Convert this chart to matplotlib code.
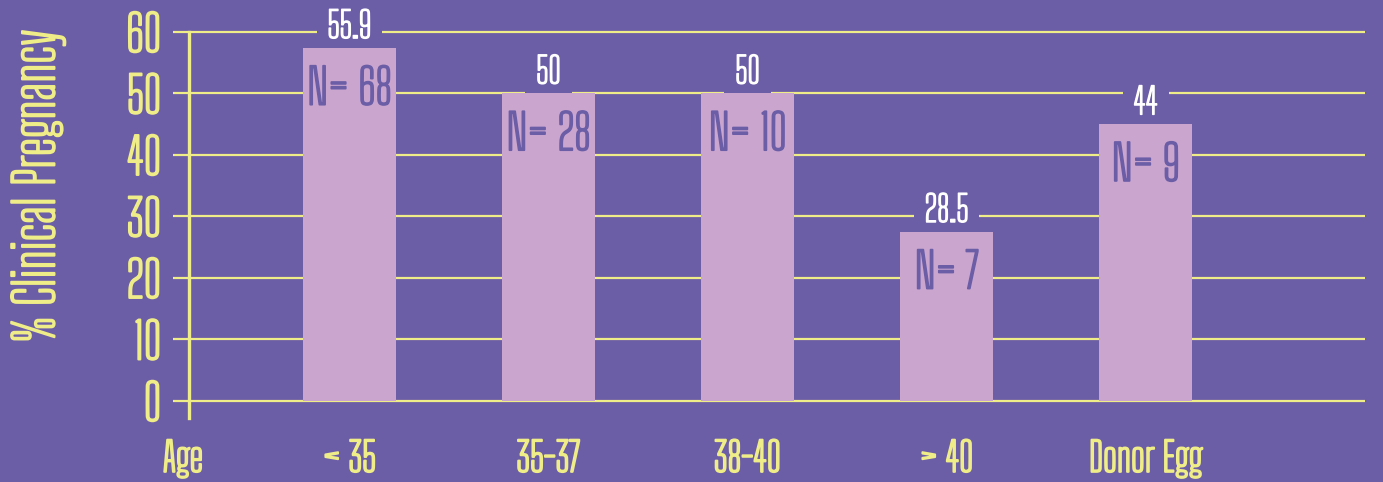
import matplotlib
matplotlib.use('Agg')
import matplotlib.pyplot as plt
import matplotlib.patheffects as pe

# chart values
groups = ['< 35', '35-37', '38-40', '> 40', 'Donor Egg']
bar_heights = [57.4, 50.0, 50.0, 27.5, 45.0]
value_labels = ['55.9', '50', '50', '28.5', '44']
n_labels = ['N= 68', 'N= 28', 'N= 10', 'N= 7', 'N= 9']
y_ticks = [0, 10, 20, 30, 40, 50, 60]

BG = '#6C5DA7'
BAR = '#CAA6CF'
YELLOW = '#EFED88'

plt.rcParams['font.family'] = ['Big Shoulders Text', 'DejaVu Sans']


def bold(color, lw=1.0):
    # the condensed face only ships thin, so thicken it with a same-colour stroke
    return [pe.withStroke(linewidth=lw, foreground=color)]


fig = plt.figure(figsize=(13.83, 4.82), dpi=100, facecolor=BG)
ax = fig.add_axes([0.1251, 0.1298, 0.8620, 0.8102])
ax.set_facecolor(BG)

# spines first: moving a spine resets the tick labels
for side in ['top', 'right', 'bottom']:
    ax.spines[side].set_visible(False)
ax.spines['left'].set_position(('data', -0.806))
ax.spines['left'].set_bounds(-2.75, 60)
ax.spines['left'].set_color(YELLOW)
ax.spines['left'].set_linewidth(2.4)
ax.spines['left'].set_zorder(3)

x = list(range(len(groups)))
ax.bar(x, bar_heights, width=0.47, color=BAR, zorder=2)

# value labels above the bars, boxed so they cut the grid lines
for xi, h, lab in zip(x, bar_heights, value_labels):
    ax.annotate(lab, xy=(xi, h), xytext=(0, 15), textcoords='offset points',
                ha='center', va='center', color='white', fontsize=26,
                zorder=1.5, path_effects=bold('white', 1.0),
                bbox=dict(boxstyle='square,pad=0.3', fc=BG, ec='none'))

# sample sizes inside the bars
for xi, h, lab in zip(x, bar_heights, n_labels):
    ax.annotate(lab, xy=(xi, h), xytext=(0, -30), textcoords='offset points',
                ha='center', va='center', color=BG, fontsize=35,
                zorder=4, path_effects=bold(BG, 1.3))

ax.set_xlim(-0.886, 5.103)
ax.set_ylim(-3, 60.5)

ax.set_yticks(y_ticks)
ax.set_yticklabels([str(t) for t in y_ticks])
ax.yaxis.grid(True, color=YELLOW, linewidth=1.6)
ax.set_axisbelow(True)

age_x = -0.836
ax.set_xticks([age_x] + x)
ax.set_xticklabels(['Age'] + groups)

ax.tick_params(axis='y', length=0, pad=20, labelsize=36, labelcolor=YELLOW)
ax.tick_params(axis='x', length=0, pad=14, labelsize=29, labelcolor=YELLOW)
for lab in ax.get_yticklabels() + ax.get_xticklabels():
    lab.set_path_effects(bold(YELLOW, 1.4))

fig.text(38 / 1383, 1 - 186 / 482, '% Clinical Pregnancy', rotation=90,
         ha='center', va='center', color=YELLOW, fontsize=39,
         path_effects=bold(YELLOW, 1.4))

fig.savefig('out.png', dpi=100, facecolor=BG)
